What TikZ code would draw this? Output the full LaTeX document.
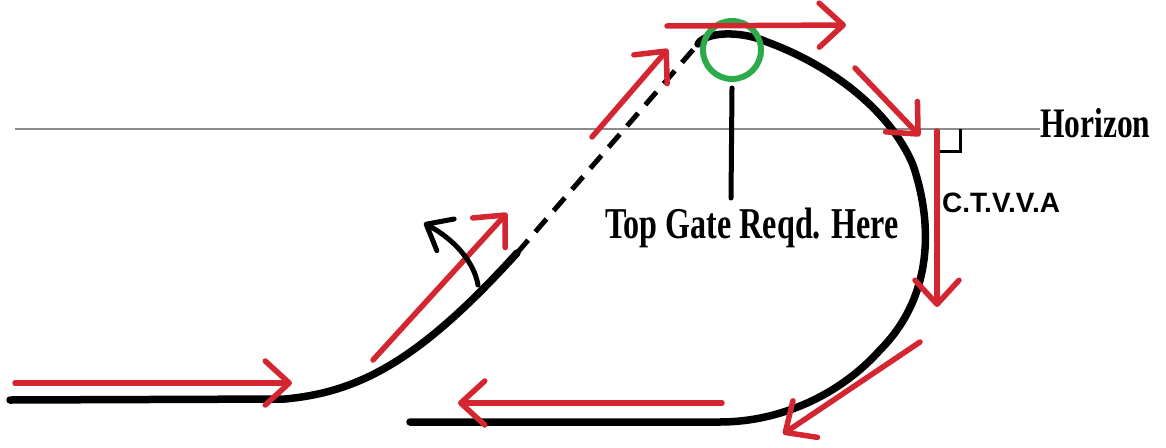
\documentclass[tikz,border=0pt]{standalone}
\usepackage{fontspec}
\setmainfont{Liberation Serif}
\setsansfont{Liberation Sans}
\usetikzlibrary{arrows.meta}
\definecolor{trackred}{RGB}{212,38,48}
\definecolor{gatecircle}{RGB}{45,170,75}
\definecolor{horizgray}{RGB}{140,140,140}
\tikzset{
  track/.style={line width=7.5pt, line cap=round, line join=round, black},
  redarrow/.style={line width=5.5pt, line cap=round, trackred, -{Straight Barb[length=24pt,width=44pt,round]}},
  lbl/.style={inner sep=0pt, anchor=base},
}
\begin{document}
\begin{tikzpicture}[x=1pt,y=-1pt]
\useasboundingbox (0,0) rectangle (1166,447);
% horizon
\coordinate (hzL) at (15,129);
\node[lbl, anchor=base west] (hz) at (1040,137) {\bfseries\fontsize{42}{42}\selectfont\scalebox{0.75}[1]{Horizon}};
\draw[horizgray, line width=1.5pt] (hzL) -- (hz.base west |- hzL);
% track
\coordinate (t0) at (10,400);
\coordinate (t1) at (285,399);
\coordinate (t2) at (517,253);
\coordinate (t3) at (698,44);
\draw[track] (t0) -- (t1) .. controls (360,392) and (420,360) .. (t2);
\draw[line width=5pt, black, dash pattern=on 17pt off 11pt] (t2) -- (t3);
\coordinate (b0) at (410,422);
\coordinate (b1) at (720,422);
\draw[track] (t3) .. controls (705,32) and (740,30) .. (767,42)
  .. controls (830,65) and (890,110) .. (913,165)
  .. controls (935,230) and (930,300) .. (880,350)
  .. controls (840,395) and (780,422) .. (b1) -- (b0);
% right angle mark
\coordinate (ra1) at (960,129);
\coordinate (ra2) at (960,151);
\coordinate (ra3) at (940,151);
\draw[line width=3pt, black] (ra1) -- (ra2) -- (ra3);
% gate
\node[circle, draw=gatecircle, line width=6pt, minimum size=58pt, inner sep=0pt] (gate) at (732,50) {};
\node[lbl] (gatetxt) at (752,238) {\bfseries\fontsize{44}{44}\selectfont\scalebox{0.73}[1]{Top Gate Reqd. Here}};
\coordinate (gl) at (731,198);
\draw[line width=5pt, black, line cap=round] (gate.south |- 0,88) -- (gl);
% CTVVA
\node[lbl, anchor=base west] (ctv) at (942,212) {\sffamily\bfseries\fontsize{28}{28}\selectfont C.T.V.V.A};
% red arrows
\coordinate (a1s) at (15,383); \coordinate (a1e) at (292,383);
\draw[redarrow] (a1s) -- (a1e);
\coordinate (a2s) at (373,360); \coordinate (a2e) at (507,213);
\draw[redarrow] (a2s) -- (a2e);
\coordinate (a3s) at (592,137); \coordinate (a3e) at (668,49);
\draw[redarrow] (a3s) -- (a3e);
\coordinate (a4s) at (667,26); \coordinate (a4e) at (846,25);
\draw[redarrow] (a4s) -- (a4e);
\coordinate (a5s) at (855,68); \coordinate (a5e) at (920,136);
\draw[redarrow] (a5s) -- (a5e);
\coordinate (a6s) at (937,131); \coordinate (a6e) at (937,307);
\draw[redarrow] (a6s) -- (a6e);
\coordinate (a7s) at (920,342); \coordinate (a7e) at (783,434);
\draw[redarrow] (a7s) -- (a7e);
\coordinate (a8s) at (722,403); \coordinate (a8e) at (458,403);
\draw[redarrow] (a8s) -- (a8e);
% black curved arrow
\coordinate (c0) at (478,285);
\coordinate (c1) at (424,223);
\draw[line width=5pt, black, line cap=round, -{Straight Barb[length=22pt,width=36pt,round]}]
  (c0) .. controls (474,262) and (455,240) .. (c1);
\end{tikzpicture}
\end{document}
